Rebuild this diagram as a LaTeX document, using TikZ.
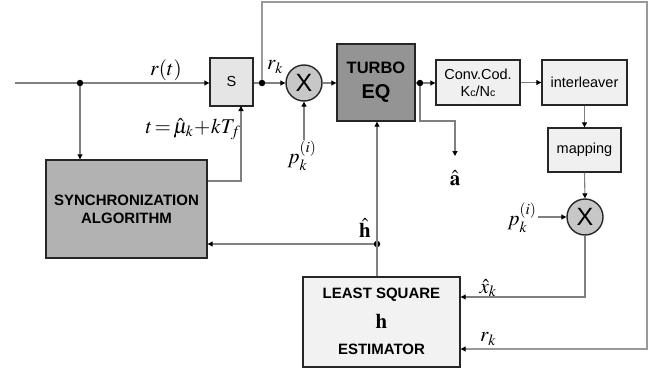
\documentclass[tikz,border=0pt]{standalone}
\usepackage{mathptmx}
\usepackage{fontspec}
\setsansfont{Liberation Sans}
\setmainfont{Liberation Serif}
\usetikzlibrary{arrows.meta,calc}
\begin{document}
\begin{tikzpicture}[x=1pt,y=-1pt,
  conn/.style={draw=black!50, line width=1.1pt, -{Triangle[length=5pt,width=5pt,color=black]}},
  line/.style={draw=black!50, line width=1.1pt},
  blk/.style={draw=black!85, line width=1.4pt, minimum width=#1},
  light/.style={fill=black!6},
  mult/.style={circle, draw=black!85, line width=1.4pt, fill=black!22, minimum size=36pt, inner sep=0pt, font=\sffamily\fontsize{25}{25}\selectfont},
  dotc/.style={circle, fill=black, inner sep=0pt, minimum size=6.5pt},
  lab/.style={inner sep=0pt, font=\fontsize{21}{21}\selectfont},
  btxt/.style={font=\sffamily\bfseries\fontsize{15}{18}\selectfont, align=center, inner sep=0pt},
  rtxt/.style={font=\sffamily\fontsize{14.5}{17}\selectfont, align=center}
]
\useasboundingbox (0,0) rectangle (664,372);

% blocks
\node[blk=43pt, minimum height=48pt, fill=black!10, rtxt] (S) at (231.5,82) {S};
\node[mult] (m1) at (304,83) {X};
\node[blk=78pt, minimum height=77pt, fill=black!42] (turbo) at (376,82.5) {};
\node[inner sep=0pt, font=\sffamily\bfseries\fontsize{16.5}{18}\selectfont] (tt1) at (376,68) {TURBO};
\node[inner sep=0pt, font=\sffamily\bfseries\fontsize{20}{22}\selectfont] (tt2) at (376,93) {EQ};
\node[blk=84pt, minimum height=45pt, light, rtxt, inner sep=0pt] (conv) at (478,82.5)
  {Conv.Cod.\\K{\fontsize{10.5}{10}\selectfont c}/N{\fontsize{10.5}{10}\selectfont c}};
\node[blk=85pt, minimum height=45pt, light, rtxt] (inter) at (584.5,82.5) {interleaver};
\node[blk=73pt, minimum height=44pt, light, rtxt] (map) at (584.5,150) {mapping};
\node[mult] (m2) at (585,217) {X};
\node[blk=161pt, minimum height=98pt, fill=black!30, btxt] (sync) at (126.5,209)
  {SYNCHRONIZATION\\ALGORITHM};
\node[blk=157pt, minimum height=90pt, fill=black!5, inner sep=0pt] (ls) at (381.5,322) {};
\node[btxt] (lst1) at (381.5,295) {LEAST SQUARE};
\node[inner sep=0pt, font=\fontsize{21}{21}\selectfont] (lst2) at (381.5,321) {$\mathbf{h}$};
\node[btxt] (lst3) at (381.5,349) {ESTIMATOR};

% junctions and free ends
\coordinate (in) at (15,83);
\node[dotc] (d1) at (80,83) {};
\node[dotc] (d2) at (262,83) {};
\node[dotc] (d3) at (420,83) {};
\node[dotc] (dh) at (377,244) {};
\coordinate (ahat) at (455,156);

% labels
\node[lab] (lrt) at (166,70) {$r(t)$};
\node[lab] (lrk) at (275,67) {$r_k$};
\node[lab] (lt) at (193,129) {$t\!=\!\hat{\mu}_k\!+\!kT_f$};
\node[lab] (lp1) at (302,156) {$p_k^{(i)}$};
\node[lab] (lp2) at (522,218) {$p_k^{(i)}$};
\node[lab] (la) at (455,178) {$\hat{\mathbf{a}}$};
\node[lab] (lh) at (365,228) {$\hat{\mathbf{h}}$};
\node[lab] (lx) at (488,288) {$\hat{x}_k$};
\node[lab] (lr2) at (488,339) {$r_k$};

% connectors
\draw[line] (in) -- (d1);
\draw[conn] (d1) -- (S.west |- d1);
\draw[conn] (d1) -- (sync.north -| d1);
\draw[line] (S.east |- d2) -- (d2);
\draw[conn] (d2) -- (m1.west);
\draw[conn] (m1.east) -- (turbo.west |- m1);
\draw[line] (turbo.east |- d3) -- (d3);
\draw[conn] (d3) -- (conv.west |- d3);
\draw[conn] (conv.east) -- (inter.west);
\draw[conn] (inter.south -| map.north) -- (map.north);
\draw[conn] (map.south) -- (m2.north);
\draw[conn] (538,217) -- (m2.west);
\draw[conn] (304,140) -- (m1.south);
\draw[conn] (d3) |- (455,121) -- (ahat);
\draw[conn] (sync.east |- 0,181) -| (241,106);
\draw[conn] (ls.north -| dh) -- (turbo.south -| dh);
\draw[conn] (dh) -- (sync.east |- dh);
\draw[conn] (m2.south) |- (ls.east |- 0,297);
\draw[draw=black!40, line width=1.1pt, -{Triangle[length=5pt,width=5pt,color=black]}]
  (d2) -- (262,2) -- (647,2) -- (647,349) -- (ls.east |- 0,349);
\end{tikzpicture}
\end{document}
